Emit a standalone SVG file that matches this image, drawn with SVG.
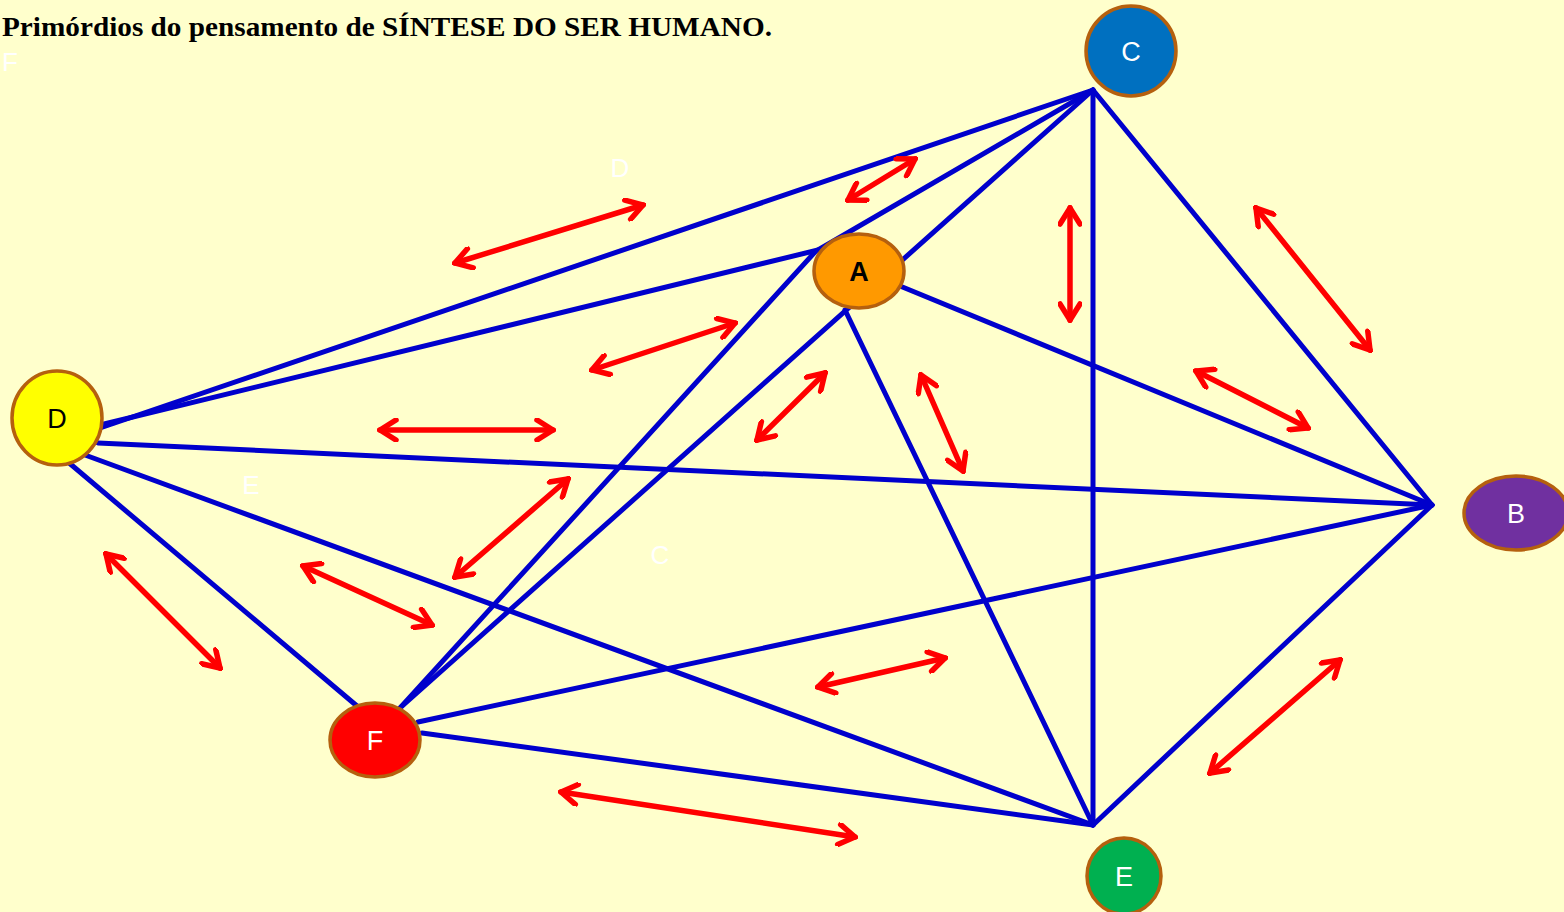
<svg xmlns="http://www.w3.org/2000/svg" width="1564" height="912" viewBox="0 0 1564 912">
<style>
.bl{stroke:#0000CC;stroke-width:5;fill:none;stroke-linecap:round}
.rd{stroke:#FF0000;stroke-width:5.5;fill:none;stroke-linecap:round;marker-start:url(#ah);marker-end:url(#ah)}
.nd{stroke:#B5600E;stroke-width:3.5}
.lb{font-family:"Liberation Sans",Arial,sans-serif;font-size:27px;text-anchor:middle}
.wt{font-family:"Liberation Sans",Arial,sans-serif;font-size:26px;fill:#FFFFFF;text-anchor:middle}
</style>
<defs>
<marker id="ah" viewBox="0 0 24 24" refX="21" refY="12" markerWidth="24" markerHeight="24" markerUnits="userSpaceOnUse" orient="auto-start-reverse">
<path d="M5,2 L21,12 L5,22" fill="none" stroke="#FF0000" stroke-width="5.5" stroke-linecap="round" stroke-linejoin="miter"/>
</marker>
</defs>
<rect x="0" y="0" width="1564" height="912" fill="#FFFFCC"/>
<text x="2" y="36" font-family="'Liberation Serif','Times New Roman',serif" font-weight="bold" font-size="28" textLength="770" lengthAdjust="spacingAndGlyphs">Primórdios do pensamento de SÍNTESE DO SER HUMANO.</text>
<text x="10" y="71" class="wt">F</text>
<text x="620" y="177" class="wt">D</text>
<text x="251" y="494" class="wt">E</text>
<text x="660" y="564" class="wt">C</text>
<g id="connectors">
<line class="bl" x1="100" y1="428" x2="1093" y2="90"/>
<line class="bl" x1="100" y1="425" x2="818" y2="250"/>
<line class="bl" x1="1093" y1="90" x2="818" y2="250"/>
<line class="bl" x1="1093" y1="90" x2="400" y2="708"/>
<line class="bl" x1="400" y1="708" x2="815" y2="252"/>
<line class="bl" x1="845" y1="310" x2="1093" y2="825"/>
<line class="bl" x1="900" y1="286" x2="1432" y2="505"/>
<line class="bl" x1="1093" y1="90" x2="1093" y2="825"/>
<line class="bl" x1="1093" y1="90" x2="1432" y2="505"/>
<line class="bl" x1="1432" y1="505" x2="1093" y2="825"/>
<line class="bl" x1="98" y1="443" x2="1432" y2="505"/>
<line class="bl" x1="85" y1="455" x2="1093" y2="825"/>
<line class="bl" x1="68" y1="462" x2="357" y2="706"/>
<line class="bl" x1="418" y1="722" x2="1432" y2="505"/>
<line class="bl" x1="422" y1="733" x2="1093" y2="825"/>
<line class="rd" x1="455" y1="263" x2="643" y2="205"/>
<line class="rd" x1="848" y1="200" x2="915" y2="159"/>
<line class="rd" x1="1070" y1="208" x2="1070" y2="320"/>
<line class="rd" x1="1256" y1="208" x2="1370" y2="350"/>
<line class="rd" x1="592" y1="370" x2="735" y2="323"/>
<line class="rd" x1="380" y1="430" x2="553" y2="430"/>
<line class="rd" x1="757" y1="440" x2="825" y2="373"/>
<line class="rd" x1="921" y1="375" x2="963" y2="471"/>
<line class="rd" x1="1196" y1="371" x2="1308" y2="428"/>
<line class="rd" x1="455" y1="577" x2="568" y2="479"/>
<line class="rd" x1="106" y1="554" x2="220" y2="668"/>
<line class="rd" x1="303" y1="566" x2="432" y2="625"/>
<line class="rd" x1="818" y1="687" x2="945" y2="658"/>
<line class="rd" x1="1210" y1="773" x2="1340" y2="660"/>
<line class="rd" x1="561" y1="792" x2="855" y2="837"/>
</g>
<g id="node-C"><ellipse class="nd" cx="1131" cy="51" rx="45" ry="45" fill="#0070C0"/><text class="lb" x="1131" y="61" fill="#FFFFFF">C</text></g>
<g id="node-A"><ellipse class="nd" cx="859" cy="271" rx="45" ry="37" fill="#FF9900"/><text class="lb" x="859" y="281" fill="#000000" font-weight="bold">A</text></g>
<g id="node-D"><ellipse class="nd" cx="57" cy="418" rx="45" ry="47" fill="#FFFF00"/><text class="lb" x="57" y="428" fill="#000000">D</text></g>
<g id="node-B"><ellipse class="nd" cx="1516" cy="513" rx="52" ry="37" fill="#7030A0"/><text class="lb" x="1516" y="523" fill="#FFFFFF">B</text></g>
<g id="node-F"><ellipse class="nd" cx="375" cy="740" rx="45" ry="37" fill="#FF0000"/><text class="lb" x="375" y="750" fill="#FFFFFF">F</text></g>
<g id="node-E"><ellipse class="nd" cx="1124" cy="876" rx="37" ry="38" fill="#00B050"/><text class="lb" x="1124" y="886" fill="#FFFFFF">E</text></g>
</svg>
